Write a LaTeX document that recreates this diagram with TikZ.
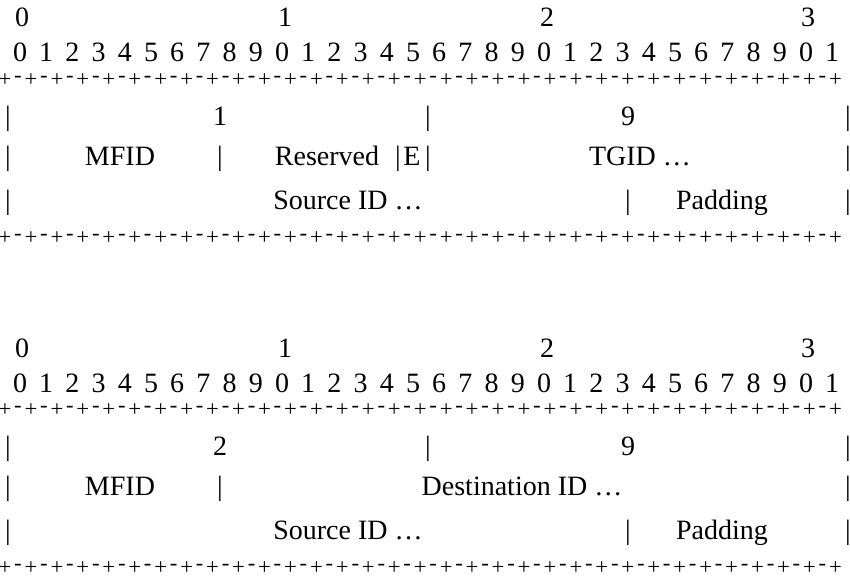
\documentclass[tikz,border=0pt]{standalone}
\usepackage{fontspec}
\setmainfont{Liberation Serif}
\usetikzlibrary{positioning}
\tikzset{
    % plain text in the field layout
    txt/.style={inner sep=0pt, anchor=base, yshift=-7.5pt, font=\fontsize{21}{24}\selectfont},
    % separator characters
    sep/.style={inner sep=0pt, font=\fontsize{17}{20}\selectfont}
}
\begin{document}
\begin{tikzpicture}[x=0.75pt,y=-0.75pt]
\useasboundingbox (0,0) rectangle (850,585);

\foreach \blk/\dy in {a/0,b/330}{
\begin{scope}[yshift=-\dy*0.75pt]
% bit numbers
\foreach \t/\x in {0/22,1/285,2/547,3/808}
    \node[txt] (\blk tens\t) at (\x,17) {\t};
\foreach \i in {0,...,31}{
    \pgfmathtruncatemacro{\d}{mod(\i,10)}
    \node[txt] (\blk bit\i) at (20+26.2*\i,52) {\d};
}
% separator lines
\foreach \yy/\s in {80/top,238/bot}{
    \foreach \i in {0,...,32}
        \node[sep] (\blk\s p\i) at (5+25.95*\i,\yy) {+};
    \foreach \i in {0,...,31}
        \node[sep] (\blk\s m\i) at (18+25.95*\i,\yy-1) {-};
}
% field borders
\foreach \r/\yy in {1/115,2/155,3/199}{
    \node[txt] (\blk l\r) at (8,\yy) {|};
    \node[txt] (\blk r\r) at (848,\yy) {|};
}
\node[txt] (\blk bar1) at (428,115) {|};
\node[txt] (\blk bar2) at (220,155) {|};
\node[txt] (\blk bar3) at (628,199) {|};
\node[txt] (\blk src) at (348,199) {Source ID \dots};
\node[txt] (\blk pad) at (722,199) {Padding};
\node[txt] (\blk nine) at (628,115) {9};
\node[txt] (\blk mfid) at (120,155) {MFID};
\end{scope}
}

% first header
\node[txt] (aone) at (220,115) {1};
\node[txt] (ares) at (327,155) {Reserved};
\node[txt] (abarE) at (398,155) {|};
\node[txt] (aE) at (412,155) {E};
\node[txt] (abarF) at (428,155) {|};
\node[txt] (atgid) at (640,155) {TGID \dots};

% second header
\node[txt] (btwo) at (220,445) {2};
\node[txt] (bdst) at (522,485) {Destination ID \dots};

\end{tikzpicture}
\end{document}
